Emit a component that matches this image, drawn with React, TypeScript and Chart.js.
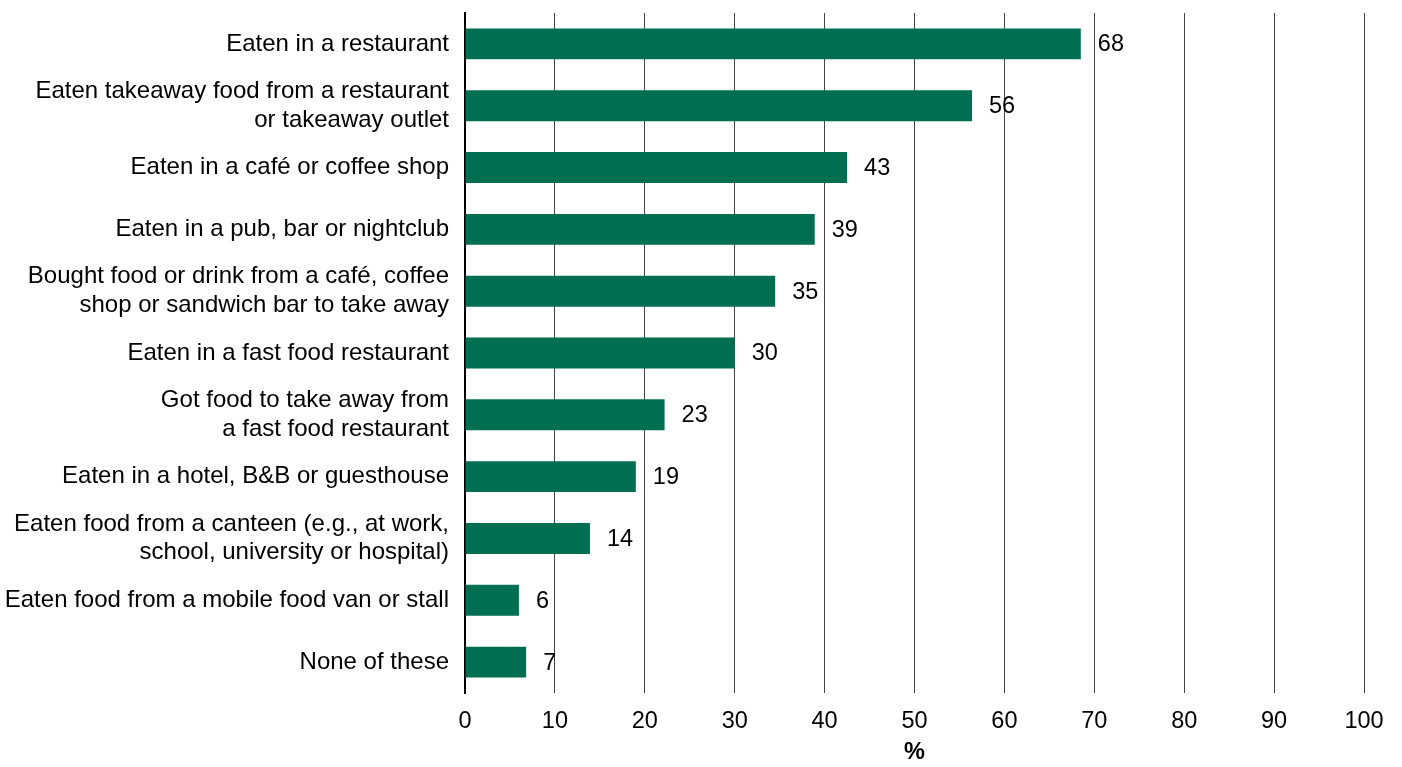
import React, { useEffect, useRef } from "react";
import { Chart, registerables } from "chart.js";

Chart.register(...registerables);

const categories: (string | string[])[] = [
  "Eaten in a restaurant",
  ["Eaten takeaway food from a restaurant", "or takeaway outlet"],
  "Eaten in a café or coffee shop",
  "Eaten in a pub, bar or nightclub",
  ["Bought food or drink from a café, coffee", "shop or sandwich bar to take away"],
  "Eaten in a fast food restaurant",
  ["Got food to take away from", "a fast food restaurant"],
  "Eaten in a hotel, B&B or guesthouse",
  ["Eaten food from a canteen (e.g., at work,", "school, university or hospital)"],
  "Eaten food from a mobile food van or stall",
  "None of these",
];

const barValues = [68.5, 56.4, 42.5, 38.9, 34.5, 30.0, 22.2, 19.0, 13.9, 6.0, 6.8];
const valueLabels = ["68", "56", "43", "39", "35", "30", "23", "19", "14", "6", "7"];

const xMin = 0;
const xMax = 100;
const xStep = 10;
const xTitle = "%";

const FONT = "'Liberation Sans', Arial, sans-serif";
const FS = 23.5;
const CAT_FS = 24;

const valueLabelPlugin = {
  id: "valueLabels",
  afterDatasetsDraw(chart: any) {
    const ctx = chart.ctx;
    const meta = chart.getDatasetMeta(0);
    ctx.save();
    ctx.font = `${FS}px ${FONT}`;
    ctx.fillStyle = "#000";
    ctx.textAlign = "left";
    ctx.textBaseline = "middle";
    meta.data.forEach((bar: any, i: number) => {
      ctx.fillText(valueLabels[i], bar.x + 17, bar.y + 1);
    });
    ctx.restore();
  },
};

export default function App() {
  const ref = useRef<HTMLCanvasElement | null>(null);

  useEffect(() => {
    document.body.style.margin = "0";
    if (!ref.current) return;
    const chart = new Chart(ref.current, {
      type: "bar",
      data: {
        labels: categories,
        datasets: [
          {
            data: barValues,
            backgroundColor: "#006E50",
            borderWidth: 0,
            barPercentage: 0.5,
            categoryPercentage: 1,
          },
        ],
      },
      options: {
        indexAxis: "y",
        animation: false,
        responsive: false,
        maintainAspectRatio: false,
        layout: { padding: { top: 13, right: 38, left: 0, bottom: 0 } },
        plugins: {
          legend: { display: false },
          tooltip: { enabled: false },
        },
        scales: {
          x: {
            min: xMin,
            max: xMax,
            grid: {
              color: "#444",
              lineWidth: 1,
              drawTicks: false,
            },
            border: { display: false },
            ticks: {
              stepSize: xStep,
              color: "#000",
              padding: 14,
              font: { family: FONT, size: FS },
            },
            title: {
              display: true,
              text: xTitle,
              color: "#000",
              font: { family: FONT, size: FS, weight: "bold" },
              padding: { top: 0, bottom: 0 },
            },
            afterFit(scale: any) {
              scale.height = 74;
            },
          },
          y: {
            grid: { display: false, drawTicks: false },
            border: { display: true, color: "#000", width: 2 },
            ticks: {
              autoSkip: false,
              color: "#000",
              padding: 16,
              font: { family: FONT, size: CAT_FS, lineHeight: 1.2 },
            },
            afterFit(scale: any) {
              scale.width = 465;
              scale.paddingTop = 0;
              scale.paddingBottom = 0;
            },
          },
        },
      },
      plugins: [valueLabelPlugin],
    });
    return () => chart.destroy();
  }, []);

  return (
    <div style={{ width: 1402, height: 767 }}>
      <canvas ref={ref} width={1402} height={767} style={{ display: "block" }} />
    </div>
  );
}
